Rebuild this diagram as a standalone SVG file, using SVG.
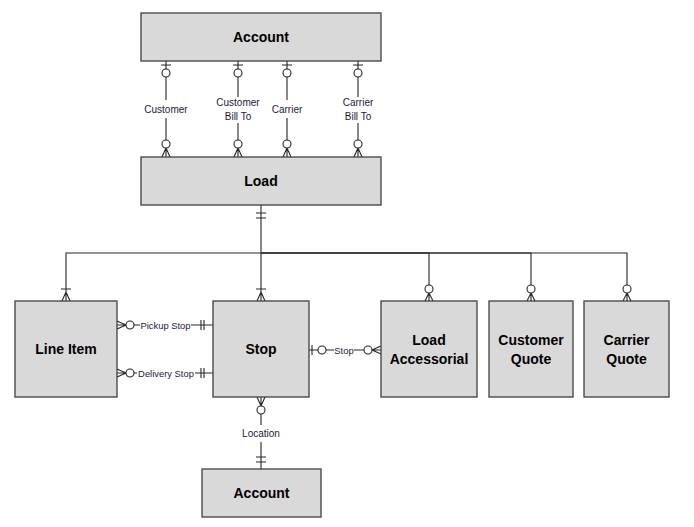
<svg xmlns="http://www.w3.org/2000/svg" width="694" height="527" viewBox="0 0 694 527">
<style>
.box{fill:#d9d9d9;stroke:#404040;stroke-width:1.3}
.t{font-family:"Liberation Sans",Arial,sans-serif;font-weight:bold;font-size:14px;fill:#000;text-anchor:middle}
.l{font-family:"Liberation Sans",Arial,sans-serif;font-size:10px;fill:#1a1a3a;text-anchor:middle}
.s{font-size:9.4px}
.c{fill:none;stroke:#262626;stroke-width:1.1}
.o{fill:#fff;stroke:#262626;stroke-width:1.1}
</style>
<rect width="694" height="527" fill="#fff"/>
<g id="connectors">
  <g id="rel-customer">
    <path class="c" d="M166,61V100M166,118V148M161,65H171M166,148L162,157M166,148L170,157M166,148V157"/>
    <circle class="o" cx="166" cy="73" r="4"/><circle class="o" cx="166" cy="144" r="4"/>
    <text class="l" x="166" y="113">Customer</text>
  </g>
  <g id="rel-customer-bill">
    <path class="c" d="M238,61V97M238,123V148M233,65H243M238,148L234,157M238,148L242,157M238,148V157"/>
    <circle class="o" cx="238" cy="73" r="4"/><circle class="o" cx="238" cy="144" r="4"/>
    <text class="l" x="238" y="106">Customer</text><text class="l" x="238" y="120">Bill To</text>
  </g>
  <g id="rel-carrier">
    <path class="c" d="M287,61V100M287,118V148M282,65H292M287,148L283,157M287,148L291,157M287,148V157"/>
    <circle class="o" cx="287" cy="73" r="4"/><circle class="o" cx="287" cy="144" r="4"/>
    <text class="l" x="287" y="113">Carrier</text>
  </g>
  <g id="rel-carrier-bill">
    <path class="c" d="M358,61V97M358,123V148M353,65H363M358,148L354,157M358,148L362,157M358,148V157"/>
    <circle class="o" cx="358" cy="73" r="4"/><circle class="o" cx="358" cy="144" r="4"/>
    <text class="l" x="358" y="106">Carrier</text><text class="l" x="358" y="120">Bill To</text>
  </g>
  <path class="c" d="M261,205V253M256,213H266M256,218H266"/>
  <path class="c" d="M261,253H66V292M61,289H71M66,292L62,301M66,292L70,301M66,292V301"/>
  <path class="c" d="M261,253V292M256,289H266M261,292L257,301M261,292L265,301M261,292V301"/>
  <path class="c" d="M261,253H429V285M429,293L425,301M429,293L433,301M429,293V301"/>
  <circle class="o" cx="429" cy="289" r="4"/>
  <path class="c" d="M261,253H531V285M531,293L527,301M531,293L535,301M531,293V301"/>
  <circle class="o" cx="531" cy="289" r="4"/>
  <path class="c" d="M261,253H627V285M627,293L623,301M627,293L631,301M627,293V301"/>
  <circle class="o" cx="627" cy="289" r="4"/>
  <g id="rel-pickup">
    <path class="c" d="M117,325H126M126,325L117,321M126,325L117,329M134,325H140M191,325H213M201,320V330M204,320V330"/>
    <circle class="o" cx="130" cy="325" r="4"/>
    <text class="l s" x="165.5" y="328.5">Pickup Stop</text>
  </g>
  <g id="rel-delivery">
    <path class="c" d="M117,373H126M126,373L117,369M126,373L117,377M134,373H137M195,373H213M201,368V378M204,368V378"/>
    <circle class="o" cx="130" cy="373" r="4"/>
    <text class="l s" x="166" y="376.5">Delivery Stop</text>
  </g>
  <g id="rel-stop-acc">
    <path class="c" d="M309,350H318M312,345V355M326,350H334M354,350H364M372,350H381M372,350L381,346M372,350L381,354"/>
    <circle class="o" cx="322" cy="350" r="4"/><circle class="o" cx="368" cy="350" r="4"/>
    <text class="l s" x="344" y="353.5">Stop</text>
  </g>
  <g id="rel-location">
    <path class="c" d="M261,397V406M261,406L257,397M261,406L265,397M261,414V425M261,442V469M256,457H266M256,462H266"/>
    <circle class="o" cx="261" cy="410" r="4"/>
    <text class="l" x="261" y="437">Location</text>
  </g>
</g>
<g id="account-top"><rect class="box" x="141" y="13" width="240" height="48"/><text class="t" x="261" y="42">Account</text></g>
<g id="load"><rect class="box" x="141" y="157" width="240" height="48"/><text class="t" x="261" y="186">Load</text></g>
<g id="line-item"><rect class="box" x="15" y="301" width="102" height="96"/><text class="t" x="66" y="354">Line Item</text></g>
<g id="stop"><rect class="box" x="213" y="301" width="96" height="96"/><text class="t" x="261" y="354">Stop</text></g>
<g id="load-accessorial"><rect class="box" x="381" y="301" width="96" height="96"/><text class="t" x="429" y="345">Load</text><text class="t" x="429" y="364">Accessorial</text></g>
<g id="customer-quote"><rect class="box" x="489" y="301" width="84" height="96"/><text class="t" x="531" y="345">Customer</text><text class="t" x="531" y="364">Quote</text></g>
<g id="carrier-quote"><rect class="box" x="584" y="301" width="85" height="96"/><text class="t" x="626.5" y="345">Carrier</text><text class="t" x="626.5" y="364">Quote</text></g>
<g id="account-bottom"><rect class="box" x="202" y="469" width="119" height="48"/><text class="t" x="261.5" y="498">Account</text></g>
</svg>
